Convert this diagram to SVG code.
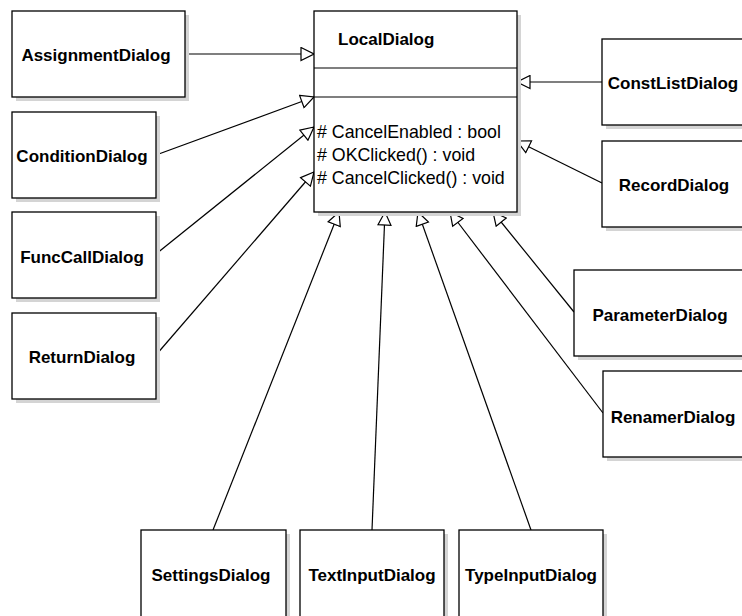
<svg xmlns="http://www.w3.org/2000/svg" width="742" height="616" viewBox="0 0 742 616">
<style>
.box{fill:#fff;stroke:#000;stroke-width:1.3}
.sh{fill:#d4d4d4}
.t{font-family:"Liberation Sans",Arial,sans-serif;font-weight:bold;font-size:17px;fill:#000;text-anchor:middle}
.a{font-family:"Liberation Sans",Arial,sans-serif;font-size:17.8px;fill:#000}
.c{fill:none;stroke:#000;stroke-width:1.2}
</style>
<defs>
<marker id="tri" markerUnits="userSpaceOnUse" markerWidth="15" markerHeight="15" viewBox="0 0 15 15" refX="14" refY="7.5" orient="auto">
<path d="M1,1 L14,7.5 L1,14 Z" fill="#fff" stroke="#000" stroke-width="1.2"/>
</marker>
</defs>
<rect width="742" height="616" fill="#fff"/>
<g id="connectors">
<line class="c" x1="185" y1="54" x2="314" y2="54" marker-end="url(#tri)"/>
<line class="c" x1="156" y1="155" x2="314" y2="97" marker-end="url(#tri)"/>
<line class="c" x1="156" y1="254" x2="314" y2="127" marker-end="url(#tri)"/>
<line class="c" x1="156" y1="355" x2="314" y2="172" marker-end="url(#tri)"/>
<line class="c" x1="602" y1="82" x2="517" y2="82" marker-end="url(#tri)"/>
<line class="c" x1="602" y1="183" x2="517" y2="141" marker-end="url(#tri)"/>
<line class="c" x1="213" y1="530" x2="339" y2="212" marker-end="url(#tri)"/>
<line class="c" x1="372" y1="530" x2="385" y2="212" marker-end="url(#tri)"/>
<line class="c" x1="531" y1="530" x2="418" y2="212" marker-end="url(#tri)"/>
<line class="c" x1="603" y1="413" x2="450" y2="212" marker-end="url(#tri)"/>
<line class="c" x1="574" y1="312" x2="493" y2="212" marker-end="url(#tri)"/>
</g>
<g id="LocalDialog">
<rect class="sh" x="318" y="15" width="203" height="201"/>
<rect class="box" x="314" y="11" width="203" height="201"/>
<line class="c" x1="314" y1="68" x2="517" y2="68"/>
<line class="c" x1="314" y1="97" x2="517" y2="97"/>
<text class="t" x="338" y="45" style="text-anchor:start">LocalDialog</text>
<text class="a" x="317" y="138"># CancelEnabled : bool</text>
<text class="a" x="317" y="161"># OKClicked() : void</text>
<text class="a" x="317" y="184"># CancelClicked() : void</text>
</g>
<g id="AssignmentDialog">
<rect class="sh" x="16" y="15" width="173" height="86"/>
<rect class="box" x="12" y="11" width="173" height="86"/>
<text class="t" x="96" y="61">AssignmentDialog</text>
</g>
<g id="ConditionDialog">
<rect class="sh" x="16" y="116" width="144" height="86"/>
<rect class="box" x="12" y="112" width="144" height="86"/>
<text class="t" x="82" y="162">ConditionDialog</text>
</g>
<g id="FuncCallDialog">
<rect class="sh" x="16" y="216" width="144" height="86"/>
<rect class="box" x="12" y="212" width="144" height="86"/>
<text class="t" x="82" y="263">FuncCallDialog</text>
</g>
<g id="ReturnDialog">
<rect class="sh" x="16" y="317" width="144" height="86"/>
<rect class="box" x="12" y="313" width="144" height="86"/>
<text class="t" x="82" y="363">ReturnDialog</text>
</g>
<g id="ConstListDialog">
<rect class="sh" x="606" y="43" width="144" height="86"/>
<rect class="box" x="602" y="39" width="144" height="86"/>
<text class="t" x="673" y="89">ConstListDialog</text>
</g>
<g id="RecordDialog">
<rect class="sh" x="606" y="145" width="144" height="86"/>
<rect class="box" x="602" y="141" width="144" height="86"/>
<text class="t" x="674" y="191">RecordDialog</text>
</g>
<g id="ParameterDialog">
<rect class="sh" x="578" y="274" width="172" height="86"/>
<rect class="box" x="574" y="270" width="172" height="86"/>
<text class="t" x="660" y="321">ParameterDialog</text>
</g>
<g id="RenamerDialog">
<rect class="sh" x="607" y="375" width="144" height="86"/>
<rect class="box" x="603" y="371" width="144" height="86"/>
<text class="t" x="673" y="423">RenamerDialog</text>
</g>
<g id="SettingsDialog">
<rect class="sh" x="145" y="534" width="145" height="90"/>
<rect class="box" x="141" y="530" width="145" height="90"/>
<text class="t" x="211" y="581">SettingsDialog</text>
</g>
<g id="TextInputDialog">
<rect class="sh" x="304" y="534" width="144" height="90"/>
<rect class="box" x="300" y="530" width="144" height="90"/>
<text class="t" x="372" y="581">TextInputDialog</text>
</g>
<g id="TypeInputDialog">
<rect class="sh" x="463" y="534" width="144" height="90"/>
<rect class="box" x="459" y="530" width="144" height="90"/>
<text class="t" x="531" y="581">TypeInputDialog</text>
</g>
</svg>
